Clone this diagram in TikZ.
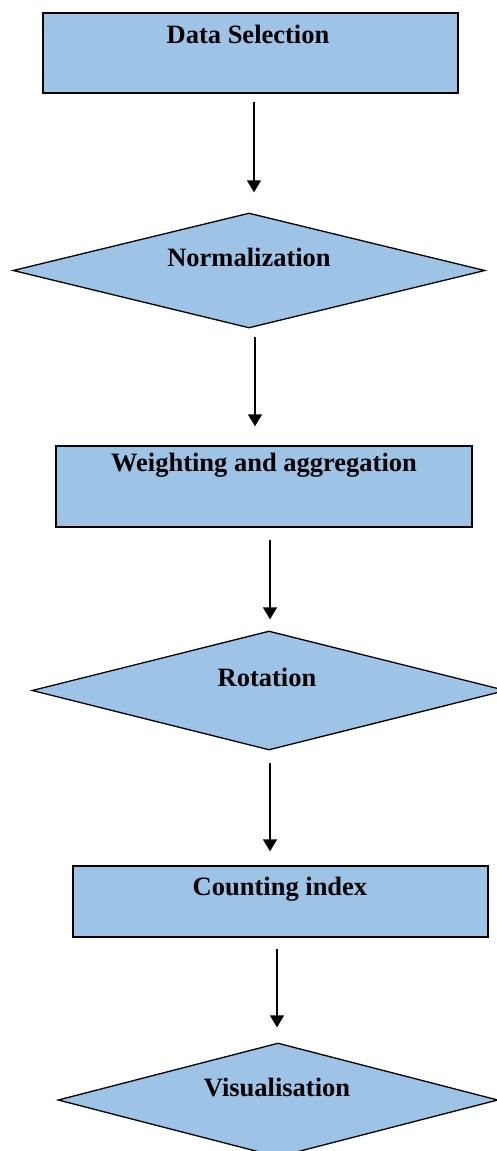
\documentclass[tikz,border=0pt]{standalone}
\usepackage{fontspec}
\setmainfont{Liberation Serif}
\usetikzlibrary{shapes.geometric,arrows.meta}
\definecolor{stepblue}{HTML}{9DC3E6}
\tikzset{
  stepbox/.style={draw=black, line width=1.4pt, fill=stepblue, rectangle, inner sep=0pt},
  decision/.style={draw=black, line width=1.3pt, fill=stepblue, diamond, inner sep=0pt},
  lbl/.style={font=\fontsize{26.5}{30}\selectfont\bfseries, anchor=base, inner sep=0pt},
  arr/.style={line width=1.4pt, -{Triangle[width=14pt,length=12pt]}}
}
\begin{document}
\begin{tikzpicture}[x=1pt,y=-1pt]
\useasboundingbox (0,0) rectangle (496,1151);

% process steps and decisions
\node[stepbox, minimum width=415pt, minimum height=80pt] (sel) at (250.5,53) {};
\node[lbl] (selt) at (248,43) {Data Selection};

\node[decision, minimum width=472pt, minimum height=115pt] (norm) at (249,270.5) {};
\node[lbl] (normt) at (249,266.5) {Normalization};

\node[stepbox, minimum width=416pt, minimum height=81pt] (wagg) at (264,486.5) {};
\node[lbl] (waggt) at (264,471.5) {Weighting and aggregation};

\node[decision, minimum width=474pt, minimum height=119pt] (rot) at (269,690.5) {};
\node[lbl] (rott) at (267,686.5) {Rotation};

\node[stepbox, minimum width=415pt, minimum height=71pt] (cnt) at (280.5,901.5) {};
\node[lbl] (cntt) at (280,895) {Counting index};

\node[decision, minimum width=440pt, minimum height=114pt] (vis) at (278,1100) {};
\node[lbl] (vist) at (277,1096.5) {Visualisation};

% connectors
\draw[arr, shorten <=8pt, shorten >=20pt] ([xshift=3.5pt]sel.south) -- ([xshift=5pt]norm.north);
\draw[arr, shorten <=8pt, shorten >=19pt] ([xshift=6pt]norm.south) -- ([xshift=-9pt]wagg.north);
\draw[arr, shorten <=12pt, shorten >=11pt] ([xshift=6pt]wagg.south) -- ([xshift=1pt]rot.north);
\draw[arr, shorten <=12pt, shorten >=14pt] ([xshift=1pt]rot.south) -- ([xshift=-10.5pt]cnt.north);
\draw[arr, shorten <=11pt, shorten >=15pt] ([xshift=-3.5pt]cnt.south) -- ([xshift=-1pt]vis.north);
\end{tikzpicture}
\end{document}
